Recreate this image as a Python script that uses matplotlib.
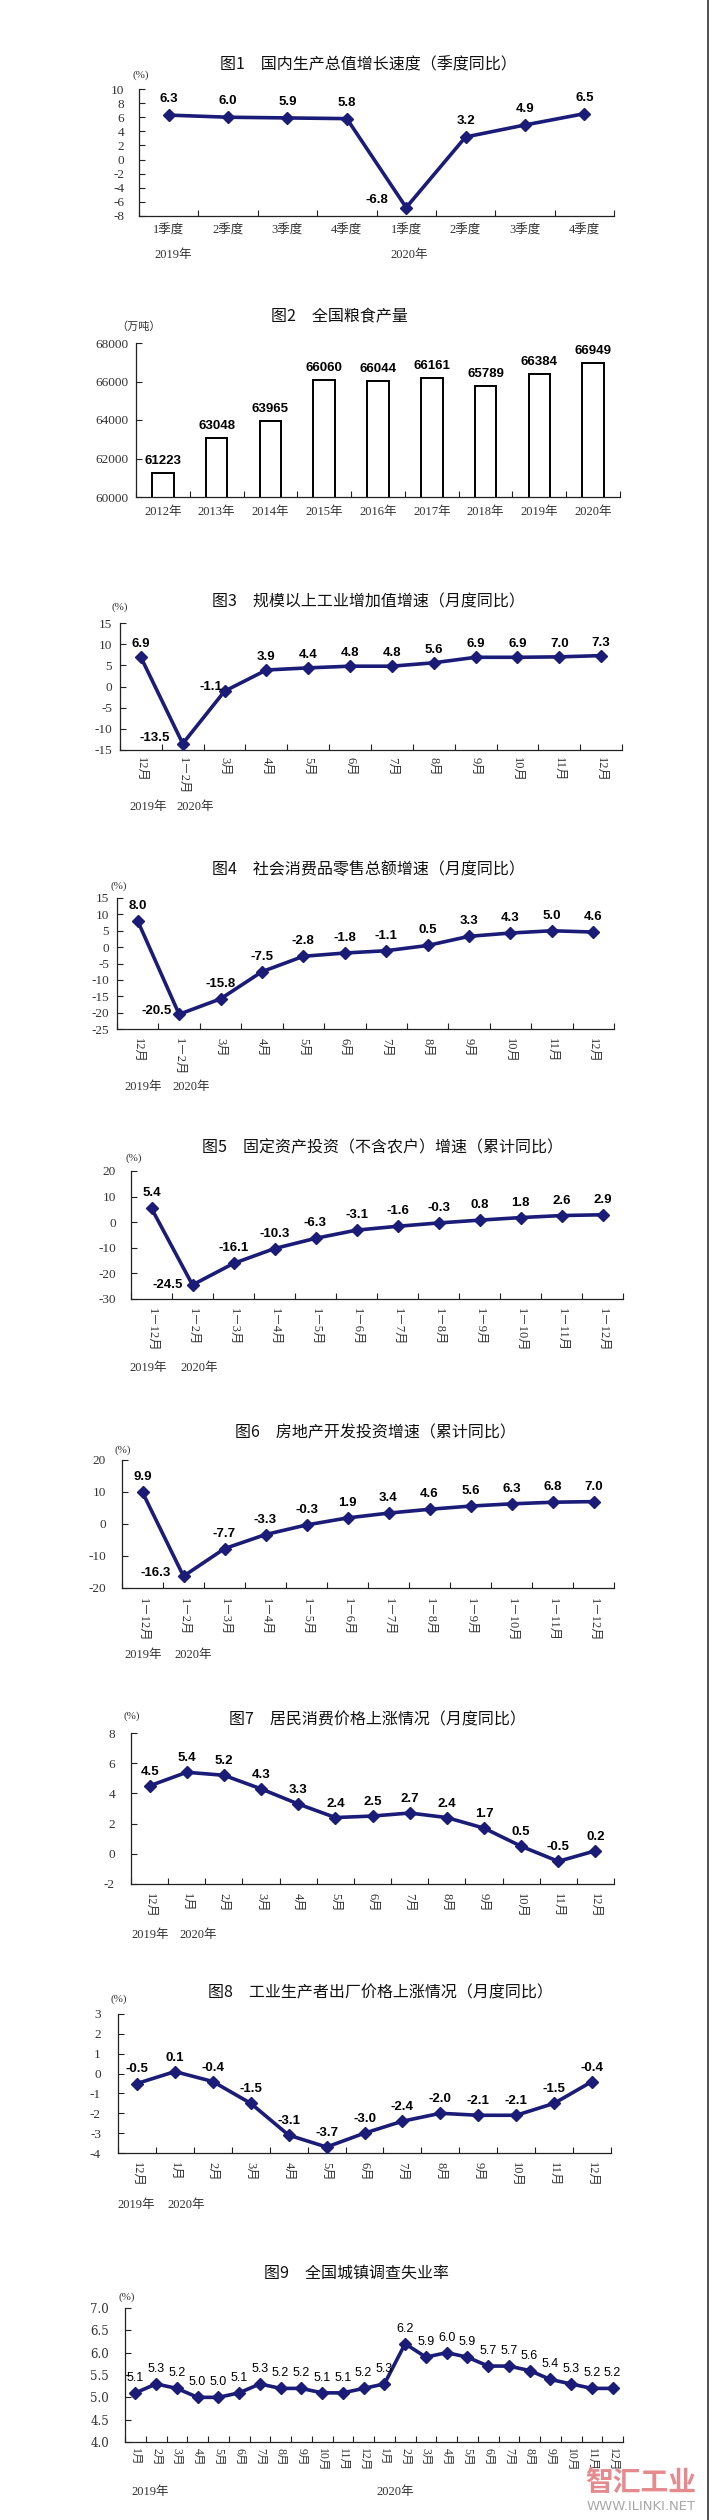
import numpy as np
import matplotlib
matplotlib.use('Agg')
import matplotlib.pyplot as plt
from matplotlib.lines import Line2D

# ---------------- data ----------------
gdp_quarters = ['1季度', '2季度', '3季度', '4季度', '1季度', '2季度', '3季度', '4季度']
gdp_growth = [6.3, 6.0, 5.9, 5.8, -6.8, 3.2, 4.9, 6.5]

grain_years = ['2012年', '2013年', '2014年', '2015年', '2016年', '2017年', '2018年', '2019年', '2020年']
grain_output = [61223, 63048, 63965, 66060, 66044, 66161, 65789, 66384, 66949]

months_a = ['12月', '1－2月', '3月', '4月', '5月', '6月', '7月', '8月', '9月', '10月', '11月', '12月']
industry_growth = [6.9, -13.5, -1.1, 3.9, 4.4, 4.8, 4.8, 5.6, 6.9, 6.9, 7.0, 7.3]
retail_growth = [8.0, -20.5, -15.8, -7.5, -2.8, -1.8, -1.1, 0.5, 3.3, 4.3, 5.0, 4.6]

months_cum = ['1－12月', '1－2月', '1－3月', '1－4月', '1－5月', '1－6月', '1－7月', '1－8月',
              '1－9月', '1－10月', '1－11月', '1－12月']
fai_growth = [5.4, -24.5, -16.1, -10.3, -6.3, -3.1, -1.6, -0.3, 0.8, 1.8, 2.6, 2.9]
realestate_growth = [9.9, -16.3, -7.7, -3.3, -0.3, 1.9, 3.4, 4.6, 5.6, 6.3, 6.8, 7.0]

months_b = ['12月', '1月', '2月', '3月', '4月', '5月', '6月', '7月', '8月', '9月', '10月', '11月', '12月']
cpi = [4.5, 5.4, 5.2, 4.3, 3.3, 2.4, 2.5, 2.7, 2.4, 1.7, 0.5, -0.5, 0.2]
ppi = [-0.5, 0.1, -0.4, -1.5, -3.1, -3.7, -3.0, -2.4, -2.0, -2.1, -2.1, -1.5, -0.4]

months_2019 = ['1月', '2月', '3月', '4月', '5月', '6月', '7月', '8月', '9月', '10月', '11月', '12月']
months_2020 = ['1月', '2月', '3月', '4月', '5月', '6月', '7月', '8月', '9月', '10月', '11月', '12月']
unemp_2019 = [5.1, 5.3, 5.2, 5.0, 5.0, 5.1, 5.3, 5.2, 5.2, 5.1, 5.1, 5.2]
unemp_2020 = [5.3, 6.2, 5.9, 6.0, 5.9, 5.7, 5.7, 5.6, 5.4, 5.3, 5.2, 5.2]

# ---------------- style ----------------
W, H, DPI = 712, 2520, 100
CJK = 'Noto Sans CJK SC'
SERIF = ['Liberation Serif', CJK]
LBL = ['Liberation Sans', 'DejaVu Sans']
NAVY = '#1b1b78'
plt.rcParams['axes.unicode_minus'] = False
plt.rcParams['font.family'] = ['Liberation Sans', CJK]

fig = plt.figure(figsize=(W / DPI, H / DPI), dpi=DPI)
fig.patch.set_facecolor('white')


def p2pt(v):
    return v * 72.0 / DPI


def add_ax(l, t, r, b):
    return fig.add_axes([l / W, 1 - b / H, (r - l) / W, (b - t) / H])


def ftext(x, y, s, **kw):
    kw.setdefault('ha', 'center')
    kw.setdefault('va', 'center')
    fig.text(x / W, 1 - y / H, s, **kw)


def style_axes(ax, n, cats, xrot, xpad, ypad, xsize=9):
    ax.set_xlim(-0.5, n - 0.5)
    ax.set_xticks(np.arange(n))
    ax.set_xticklabels(cats, rotation=xrot, family=SERIF, fontsize=xsize, color='#333333')
    ax.set_xticks(np.arange(-0.5, n, 1.0), minor=True)
    ax.tick_params(axis='x', which='major', length=0, pad=p2pt(xpad))
    ax.tick_params(axis='x', which='minor', direction='in', length=4, width=0.8, color='#222222')
    ax.tick_params(axis='y', direction='in', length=4, width=0.8, pad=p2pt(ypad), color='#222222')
    for s in ['top', 'right']:
        ax.spines[s].set_visible(False)
    for s in ['left', 'bottom']:
        ax.spines[s].set_linewidth(0.9)
        ax.spines[s].set_color('#222222')
    ax.set_facecolor('none')


def header(title, txy, unit, uxy, years, yxy):
    ftext(txy[0], txy[1], title, family=[CJK], fontsize=11.5, color='#111111')
    ftext(uxy[0], uxy[1], unit, family=SERIF, fontsize=8, color='#333333')
    for yl, (yx, yy) in zip(years, yxy):
        ftext(yx, yy, yl, family=SERIF, fontsize=9, color='#333333')


def line_panel(box, cats, vals, ylim, yticks, xrot, xpad, ypad, dy, special,
               bold=True, lblsize=9.5, yfmt='{:g}', yfamily=SERIF, xsize=9, ysize=9.5):
    ax = add_ax(*box)
    n = len(cats)
    x = np.arange(n)
    ax.plot(x, vals, color=NAVY, lw=2.6, marker='D', ms=6.5, mfc=NAVY, mec=NAVY,
            solid_joinstyle='round', clip_on=False, zorder=3)
    ax.set_ylim(*ylim)
    ax.set_yticks(yticks)
    ax.set_yticklabels([yfmt.format(t) for t in yticks], family=yfamily, fontsize=ysize, color='#333333')
    style_axes(ax, n, cats, xrot, xpad, ypad, xsize)
    for i, v in enumerate(vals):
        dx, ddy = special.get(i, (0, dy))
        ax.annotate(f'{v:.1f}', (i, v), xytext=(p2pt(dx), p2pt(ddy)), textcoords='offset points',
                    ha='center', va='center', fontsize=lblsize,
                    fontweight='bold' if bold else 'normal', family=LBL, color='black')
    return ax


# ---------------- Fig 1 ----------------
header('图1　国内生产总值增长速度（季度同比）', (368, 65), '(%)', (141, 75),
       ['2019年', '2020年'], [(173, 255), (409, 255)])
line_panel((139, 89, 614, 216), gdp_quarters, gdp_growth, (-8, 10), np.arange(-8, 11, 2),
           0, 9, 15, 16, {4: (-29, 8)})

# ---------------- Fig 2 ----------------
header('图2　全国粮食产量', (339, 317), '（万吨）', (139, 327), [], [])
ax2 = add_ax(136, 343, 620, 497)
xb = np.arange(len(grain_years))
ax2.bar(xb, grain_output, width=0.4, color='white', edgecolor='black', linewidth=1.4, zorder=2)
ax2.set_ylim(60000, 68000)
ax2.set_yticks(np.arange(60000, 68001, 2000))
ax2.set_yticklabels([f'{t:d}' for t in np.arange(60000, 68001, 2000)], family=SERIF,
                    fontsize=9.5, color='#333333')
style_axes(ax2, len(grain_years), grain_years, 0, 9, 8)
for i, v in enumerate(grain_output):
    ax2.annotate(f'{v}', (i, v), xytext=(0, p2pt(12)), textcoords='offset points',
                 ha='center', va='center', fontsize=9.5, fontweight='bold', family=LBL)

# ---------------- Fig 3 ----------------
header('图3　规模以上工业增加值增速（月度同比）', (368, 602), '(%)', (120, 607),
       ['2019年', '2020年'], [(148, 807), (195, 807)])
line_panel((120, 623, 622, 750), months_a, industry_growth, (-15, 15), np.arange(-15, 16, 5),
           270, 7, 8, 13, {1: (-28, 6), 2: (-14, 4)})

# ---------------- Fig 4 ----------------
header('图4　社会消费品零售总额增速（月度同比）', (368, 870), '(%)', (119, 886),
       ['2019年', '2020年'], [(143, 1087), (191, 1087)])
line_panel((117, 898, 614, 1029), months_a, retail_growth, (-25, 15), np.arange(-25, 16, 5),
           270, 9, 8, 15, {1: (-22, 3)})

# ---------------- Fig 5 ----------------
header('图5　固定资产投资（不含农户）增速（累计同比）', (382, 1148), '(%)', (134, 1158),
       ['2019年', '2020年'], [(148, 1368), (199, 1368)])
line_panel((131, 1171, 623, 1299), months_cum, fai_growth, (-30, 20), np.arange(-30, 21, 10),
           270, 9, 15, 15, {1: (-25, 0)})

# ---------------- Fig 6 ----------------
header('图6　房地产开发投资增速（累计同比）', (375, 1433), '(%)', (123, 1450),
       ['2019年', '2020年'], [(143, 1655), (193, 1655)])
line_panel((122, 1460, 614, 1588), months_cum, realestate_growth, (-20, 20), np.arange(-20, 21, 10),
           270, 10, 16, 15, {1: (-28, 3)})

# ---------------- Fig 7 ----------------
header('图7　居民消费价格上涨情况（月度同比）', (377, 1720), '(%)', (132, 1716),
       ['2019年', '2020年'], [(150, 1935), (198, 1935)])
line_panel((131, 1733, 614, 1884), months_b, cpi, (-2, 8), np.arange(-2, 9, 2),
           270, 9, 16, 14, {})

# ---------------- Fig 8 ----------------
header('图8　工业生产者出厂价格上涨情况（月度同比）', (380, 1993), '(%)', (119, 1999),
       ['2019年', '2020年'], [(136, 2205), (186, 2205)])
line_panel((118, 2014, 611, 2153), months_b, ppi, (-4, 3), np.arange(-4, 4, 1),
           270, 9, 17, 14, {})

# ---------------- Fig 9 ----------------
header('图9　全国城镇调查失业率', (357, 2273), '(%)', (127, 2297),
       ['2019年', '2020年'], [(150, 2492), (395, 2492)])
line_panel((125, 2308, 623, 2442), months_2019 + months_2020, unemp_2019 + unemp_2020,
           (4.0, 7.0), np.arange(4.0, 7.01, 0.5), 270, 6, 16, 15, {},
           bold=False, lblsize=9, yfmt='{:.1f}', yfamily=['DejaVu Serif'], xsize=8.5, ysize=8.5)

# ---------------- decorations ----------------
fig.add_artist(Line2D([708 / W, 708 / W], [0, 1], transform=fig.transFigure,
                      color='#333333', lw=1.2))
ftext(641, 2483, '智汇工业', family=[CJK], fontsize=20, fontweight='bold', color='#e58a8e')
ftext(641, 2506, 'WWW.ILINKI.NET', family=['DejaVu Sans'], fontsize=9.5, color='#a8a8a8')

fig.savefig('out.png', dpi=DPI, facecolor='white')
